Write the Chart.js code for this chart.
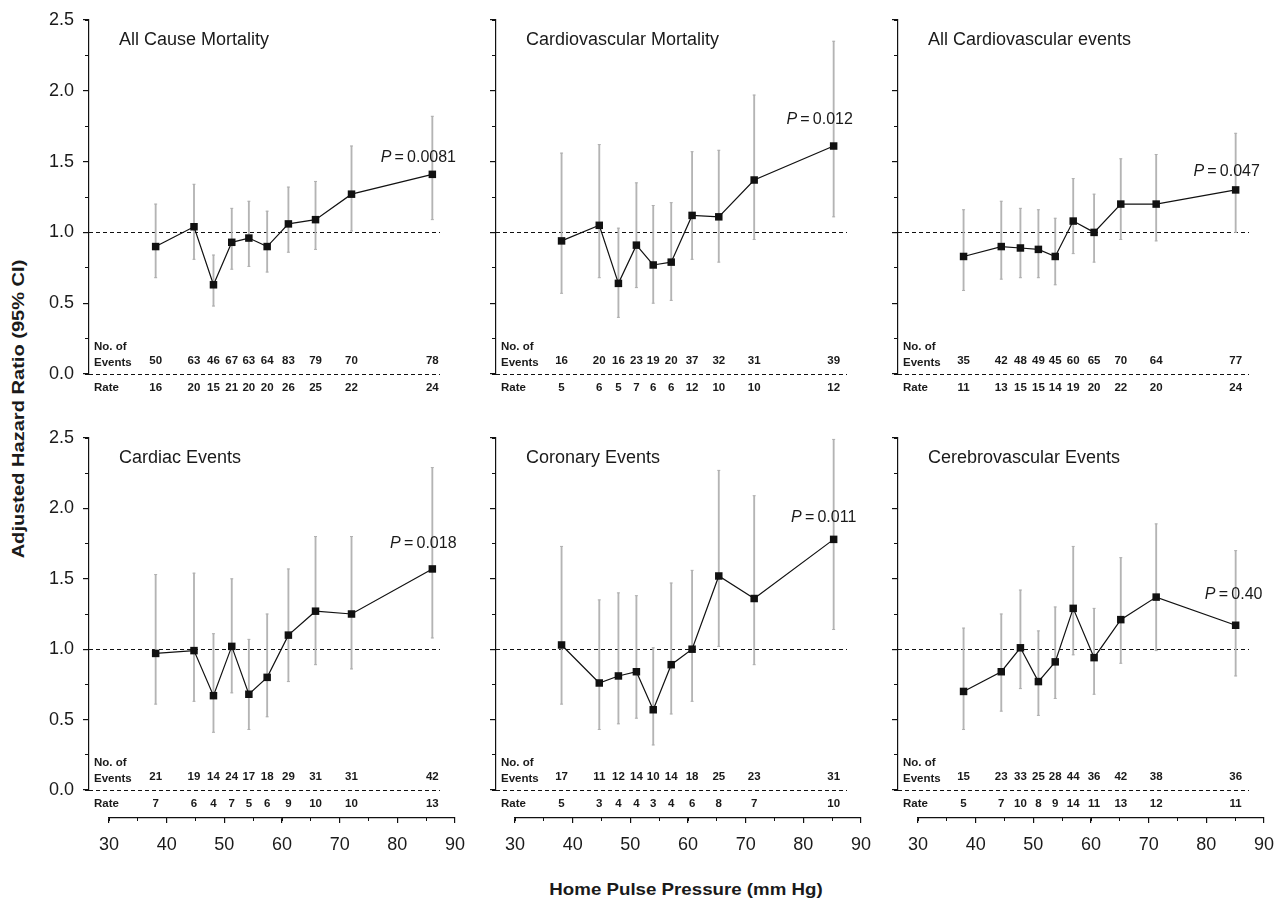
<!DOCTYPE html>
<html>
<head>
<meta charset="utf-8">
<title>Home pulse pressure and adjusted hazard ratios</title>
<script src="https://cdn.jsdelivr.net/npm/chart.js@4.4.1/dist/chart.umd.min.js"></script>
<style>
  body { margin: 0; background: #fff; width: 1282px; height: 901px; position: relative; overflow: hidden;
         font-family: "Liberation Sans", Arial, sans-serif; }
  canvas { position: absolute; }
  .axis-title { position: absolute; font-weight: bold; font-size: 17px; color: #1a1a1a; white-space: nowrap; }
  #ytitle { left: 19px; top: 409px; transform: translate(-50%, -50%) rotate(-90deg) scaleX(1.18); }
  #xtitle { left: 686px; top: 890px; transform: translate(-50%, -50%) scaleX(1.1); }
</style>
</head>
<body>
<div class="axis-title" id="ytitle">Adjusted Hazard Ratio (95% CI)</div>
<div class="axis-title" id="xtitle">Home Pulse Pressure (mm Hg)</div>
<script>
// ---- data ----
var pulsePressure = [38.1, 44.6, 47.9, 51.0, 53.9, 57.0, 60.6, 65.2, 71.3, 85.0];
var xTicks = [30, 40, 50, 60, 70, 80, 90];
var yTicks = [0, 0.5, 1.0, 1.5, 2.0, 2.5];

var panelTitles = ["All Cause Mortality", "Cardiovascular Mortality", "All Cardiovascular events",
                   "Cardiac Events", "Coronary Events", "Cerebrovascular Events"];
var pValues = ["0.0081", "0.012", "0.047", "0.018", "0.011", "0.40"];

var hrAllCause = [0.90, 1.04, 0.63, 0.93, 0.96, 0.90, 1.06, 1.09, 1.27, 1.41];
var loAllCause = [0.68, 0.81, 0.48, 0.74, 0.76, 0.72, 0.86, 0.88, 1.01, 1.09];
var hiAllCause = [1.20, 1.34, 0.84, 1.17, 1.22, 1.15, 1.32, 1.36, 1.61, 1.82];
var eventsAllCause = [50, 63, 46, 67, 63, 64, 83, 79, 70, 78];
var rateAllCause = [16, 20, 15, 21, 20, 20, 26, 25, 22, 24];

var hrCvMort = [0.94, 1.05, 0.64, 0.91, 0.77, 0.79, 1.12, 1.11, 1.37, 1.61];
var loCvMort = [0.57, 0.68, 0.40, 0.61, 0.50, 0.52, 0.81, 0.79, 0.95, 1.11];
var hiCvMort = [1.56, 1.62, 1.03, 1.35, 1.19, 1.21, 1.57, 1.58, 1.97, 2.35];
var eventsCvMort = [16, 20, 16, 23, 19, 20, 37, 32, 31, 39];
var rateCvMort = [5, 6, 5, 7, 6, 6, 12, 10, 10, 12];

var hrAllCv = [0.83, 0.90, 0.89, 0.88, 0.83, 1.08, 1.00, 1.20, 1.20, 1.30];
var loAllCv = [0.59, 0.67, 0.68, 0.68, 0.63, 0.85, 0.79, 0.95, 0.94, 1.00];
var hiAllCv = [1.16, 1.22, 1.17, 1.16, 1.10, 1.38, 1.27, 1.52, 1.55, 1.70];
var eventsAllCv = [35, 42, 48, 49, 45, 60, 65, 70, 64, 77];
var rateAllCv = [11, 13, 15, 15, 14, 19, 20, 22, 20, 24];

var hrCardiac = [0.97, 0.99, 0.67, 1.02, 0.68, 0.80, 1.10, 1.27, 1.25, 1.57];
var loCardiac = [0.61, 0.63, 0.41, 0.69, 0.43, 0.52, 0.77, 0.89, 0.86, 1.08];
var hiCardiac = [1.53, 1.54, 1.11, 1.50, 1.07, 1.25, 1.57, 1.80, 1.80, 2.29];
var eventsCardiac = [21, 19, 14, 24, 17, 18, 29, 31, 31, 42];
var rateCardiac = [7, 6, 4, 7, 5, 6, 9, 10, 10, 13];

var hrCoronary = [1.03, 0.76, 0.81, 0.84, 0.57, 0.89, 1.00, 1.52, 1.36, 1.78];
var loCoronary = [0.61, 0.43, 0.47, 0.51, 0.32, 0.54, 0.63, 1.02, 0.89, 1.14];
var hiCoronary = [1.73, 1.35, 1.40, 1.38, 1.01, 1.47, 1.56, 2.27, 2.09, 2.49];
var eventsCoronary = [17, 11, 12, 14, 10, 14, 18, 25, 23, 31];
var rateCoronary = [5, 3, 4, 4, 3, 4, 6, 8, 7, 10];

var hrCerebro = [0.70, 0.84, 1.01, 0.77, 0.91, 1.29, 0.94, 1.21, 1.37, 1.17];
var loCerebro = [0.43, 0.56, 0.72, 0.53, 0.65, 0.96, 0.68, 0.90, 0.99, 0.81];
var hiCerebro = [1.15, 1.25, 1.42, 1.13, 1.30, 1.73, 1.29, 1.65, 1.89, 1.70];
var eventsCerebro = [15, 23, 33, 25, 28, 44, 36, 42, 38, 36];
var rateCerebro = [5, 7, 10, 8, 9, 14, 11, 13, 12, 11];

// ---- layout ----
var FONT = '"Liberation Sans", Arial, sans-serif';
Chart.defaults.font.family = FONT;
Chart.defaults.color = '#1a1a1a';

var colLeft = [89, 496, 898];        // y axis pixel of each column
var colXMax = [86.3, 87.3, 87.3];    // data x at right end of plot area
var xMinData = 26.8;
var areaW = 351;
var rowTop = [20, 438];
var rowBottom = [374, 790];
var axis30 = [108, 514, 917];        // pixel of 30 on the bottom axes
var axisLen = 348;
var axisY = 818;
var pLabelShift = [[-14, -17], [-14, -26], [-9, -18], [-9, -25], [-10, -22], [-2, -31]];

var panels = [
  { hr: hrAllCause, lo: loAllCause, hi: hiAllCause, ev: eventsAllCause, rate: rateAllCause },
  { hr: hrCvMort, lo: loCvMort, hi: hiCvMort, ev: eventsCvMort, rate: rateCvMort },
  { hr: hrAllCv, lo: loAllCv, hi: hiAllCv, ev: eventsAllCv, rate: rateAllCv },
  { hr: hrCardiac, lo: loCardiac, hi: hiCardiac, ev: eventsCardiac, rate: rateCardiac },
  { hr: hrCoronary, lo: loCoronary, hi: hiCoronary, ev: eventsCoronary, rate: rateCoronary },
  { hr: hrCerebro, lo: loCerebro, hi: hiCerebro, ev: eventsCerebro, rate: rateCerebro }
];

function makePanel(idx) {
  var col = idx % 3, row = Math.floor(idx / 3);
  var p = panels[idx];
  var padL = 10, yW = 50, padT = 20, padR = 40, padB = 40;
  var h = rowBottom[row] - rowTop[row];
  var cv = document.createElement('canvas');
  cv.width = padL + yW + areaW + padR;
  cv.height = padT + h + padB;
  cv.style.left = (colLeft[col] - padL - yW) + 'px';
  cv.style.top = (rowTop[row] - padT) + 'px';
  document.body.appendChild(cv);

  var linePts = pulsePressure.map(function (x, i) { return { x: x, y: p.hr[i] }; });
  var barPts = pulsePressure.map(function (x, i) { return { x: x, y: [p.lo[i], p.hi[i]] }; });
  var capPts = [];
  pulsePressure.forEach(function (x, i) {
    capPts.push({ x: x, y: p.lo[i] });
    capPts.push({ x: x, y: p.hi[i] });
  });

  var textPlugin = {
    id: 'panelText',
    beforeDatasetsDraw: function (chart) {
      var ctx = chart.ctx, a = chart.chartArea, ys = chart.scales.y;
      ctx.save();
      ctx.strokeStyle = '#111';
      ctx.lineWidth = 1.2;
      ctx.setLineDash([4, 3]);
      [1, 0].forEach(function (v) {
        var py = Math.round(ys.getPixelForValue(v)) + 0.5;
        ctx.beginPath();
        ctx.moveTo(a.left, py);
        ctx.lineTo(a.right, py);
        ctx.stroke();
      });
      ctx.restore();
    },
    afterDraw: function (chart) {
      var ctx = chart.ctx, a = chart.chartArea, xs = chart.scales.x, ys = chart.scales.y;
      var y0 = ys.getPixelForValue(0);
      ctx.save();
      ctx.fillStyle = '#1a1a1a';
      ctx.textBaseline = 'middle';

      // panel title
      ctx.font = '18px ' + FONT;
      ctx.textAlign = 'left';
      ctx.fillText(panelTitles[idx], a.left + 30, a.top + 20);

      // row labels
      ctx.font = 'bold 11.5px ' + FONT;
      ctx.fillText('No. of', a.left + 5, y0 - 27);
      ctx.fillText('Events', a.left + 5, y0 - 11);
      ctx.fillText('Rate', a.left + 5, y0 + 14);

      ctx.textAlign = 'center';
      pulsePressure.forEach(function (x, i) {
        var px = xs.getPixelForValue(x);
        ctx.fillText(String(p.ev[i]), px, y0 - 13);
        ctx.fillText(String(p.rate[i]), px, y0 + 14);
      });

      // P value
      var last = pulsePressure.length - 1;
      var cx = xs.getPixelForValue(pulsePressure[last]) + pLabelShift[idx][0];
      var cy = ys.getPixelForValue(p.hr[last]) + pLabelShift[idx][1];
      var rest = '\u2009=\u2009' + pValues[idx];
      ctx.font = 'italic 16px ' + FONT;
      var wP = ctx.measureText('P').width;
      ctx.font = '16px ' + FONT;
      var wR = ctx.measureText(rest).width;
      var x0 = cx - (wP + wR) / 2;
      ctx.textAlign = 'left';
      ctx.font = 'italic 16px ' + FONT;
      ctx.fillText('P', x0, cy);
      ctx.font = '16px ' + FONT;
      ctx.fillText(rest, x0 + wP, cy);
      ctx.restore();
    }
  };

  new Chart(cv, {
    type: 'scatter',
    data: {
      datasets: [
        {
          type: 'line', data: linePts, order: 0, clip: false,
          borderColor: '#111', borderWidth: 1.2, tension: 0,
          pointStyle: 'rect', pointRadius: 5.3, pointBackgroundColor: '#111',
          pointBorderColor: '#111', pointBorderWidth: 0
        },
        {
          type: 'scatter', data: capPts, order: 1, clip: false,
          pointStyle: 'line', pointRadius: 1.5, borderColor: '#b0b0b0', borderWidth: 1
        },
        {
          type: 'bar', data: barPts, order: 2, clip: false,
          backgroundColor: '#b4b4b4', barThickness: 1.2, borderWidth: 0
        }
      ]
    },
    options: {
      responsive: false,
      animation: false,
      devicePixelRatio: 1,
      events: [],
      layout: { padding: { left: padL, top: padT, right: padR, bottom: padB } },
      plugins: { legend: { display: false }, tooltip: { enabled: false } },
      scales: {
        x: { type: 'linear', min: xMinData, max: colXMax[col], display: false, offset: false },
        y: {
          type: 'linear', position: 'left', min: 0, max: 2.5, weight: 1,
          afterFit: function (s) { s.width = yW; },
          afterBuildTicks: function (s) { s.ticks = yTicks.map(function (v) { return { value: v }; }); },
          border: { display: true, color: '#111', width: 1.2 },
          grid: { drawOnChartArea: false, drawTicks: true, tickLength: 6, color: '#111', lineWidth: 1.2 },
          ticks: {
            display: col === 0, padding: 9, color: '#1a1a1a', font: { size: 18 },
            callback: function (v) { return Number(v).toFixed(1); }
          }
        },
        yMinor: {
          type: 'linear', position: 'left', min: 0, max: 2.5, weight: 0,
          afterFit: function (s) { s.width = 0; },
          border: { display: false },
          grid: { drawOnChartArea: false, drawTicks: true, tickLength: 4, color: '#111', lineWidth: 1 },
          ticks: { display: false, stepSize: 0.25 }
        }
      }
    },
    plugins: [textPlugin]
  });
}

function makeXAxis(col) {
  var padL = 20, padR = 20, padT = 10, areaH = 10, axH = 45;
  var cv = document.createElement('canvas');
  cv.width = padL + axisLen + padR;
  cv.height = padT + areaH + axH;
  cv.style.left = (axis30[col] - padL) + 'px';
  cv.style.top = (axisY - padT - areaH) + 'px';
  document.body.appendChild(cv);
  new Chart(cv, {
    type: 'scatter',
    data: { datasets: [] },
    options: {
      responsive: false,
      animation: false,
      devicePixelRatio: 1,
      events: [],
      layout: { padding: { left: padL, top: padT, right: padR, bottom: 0 } },
      plugins: { legend: { display: false }, tooltip: { enabled: false } },
      scales: {
        x: {
          type: 'linear', position: 'bottom', min: xTicks[0], max: xTicks[xTicks.length - 1], weight: 1,
          afterFit: function (s) { s.height = axH; },
          afterBuildTicks: function (s) { s.ticks = xTicks.map(function (v) { return { value: v }; }); },
          border: { display: true, color: '#111', width: 1.2 },
          grid: { drawOnChartArea: false, drawTicks: true, tickLength: 5, color: '#111', lineWidth: 1.2 },
          ticks: { padding: 11, color: '#1a1a1a', font: { size: 18 } }
        },
        xMinor: {
          type: 'linear', position: 'bottom', min: xTicks[0], max: xTicks[xTicks.length - 1], weight: 0,
          afterFit: function (s) { s.height = 0; },
          border: { display: false },
          grid: { drawOnChartArea: false, drawTicks: true, tickLength: 3, color: '#111', lineWidth: 1 },
          ticks: { display: false, stepSize: 5 }
        },
        y: { type: 'linear', min: 0, max: 1, display: false }
      }
    }
  });
}

for (var i = 0; i < panels.length; i++) makePanel(i);
for (var c = 0; c < 3; c++) makeXAxis(c);
</script>
</body>
</html>
